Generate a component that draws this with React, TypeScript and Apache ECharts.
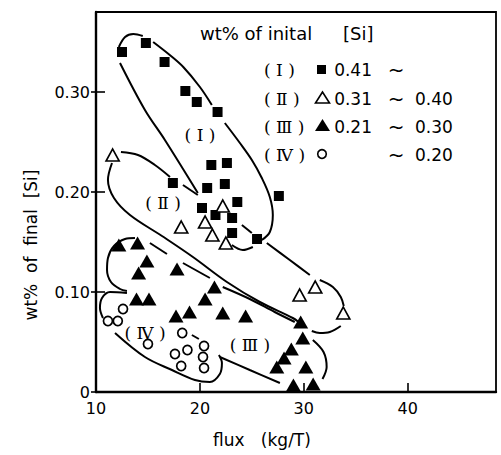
import React, { useEffect, useRef } from "react";
import * as echarts from "echarts";

// Final [Si] (wt%) against flux addition (kg/T), grouped by initial [Si]
const groupI: [number, number][] = [
  [12.5, 0.34], [14.8, 0.349], [16.6, 0.33], [18.6, 0.301], [19.7, 0.29], [21.7, 0.28],
  [21.1, 0.227], [22.6, 0.229], [17.4, 0.209], [20.7, 0.204], [22.4, 0.208], [20.2, 0.184],
  [23.6, 0.19], [21.5, 0.177], [23.1, 0.174], [23.1, 0.159], [25.5, 0.153], [27.6, 0.196],
];
const groupII: [number, number][] = [
  [11.6, 0.237], [18.2, 0.165], [20.5, 0.17], [21.2, 0.157], [22.2, 0.186], [22.5, 0.149],
  [29.6, 0.097], [31.1, 0.105], [33.8, 0.079],
];
const groupIII: [number, number][] = [
  [12.2, 0.147], [14.0, 0.149], [14.9, 0.131], [14.1, 0.119], [17.8, 0.123], [13.9, 0.093],
  [15.1, 0.093], [17.7, 0.076], [19.0, 0.08], [21.4, 0.105], [20.5, 0.093], [22.2, 0.079],
  [24.4, 0.076], [29.7, 0.07], [29.9, 0.054], [28.8, 0.043], [28.1, 0.034], [27.4, 0.025],
  [30.2, 0.025], [29.0, 0.007], [30.9, 0.008],
];
const groupIV: [number, number][] = [
  [12.6, 0.083], [11.15, 0.071], [12.1, 0.071], [15.0, 0.048], [18.3, 0.059], [20.4, 0.046],
  [18.8, 0.042], [17.6, 0.038], [20.3, 0.035], [18.2, 0.026], [20.4, 0.024],
];

// Hand-drawn group boundaries, as broken stroke pieces in data units
const envelopeI: [number, number][][] = [
  [[12.2, 0.345], [12.8, 0.355], [13.6, 0.358], [14.5, 0.356]],
  [[15.5, 0.35], [17.1, 0.337], [18.4, 0.325], [20.0, 0.305], [21.15, 0.287]],
  [[22.4, 0.269], [23.85, 0.249], [25.0, 0.232], [25.96, 0.214], [26.73, 0.195], [27.02, 0.177], [26.73, 0.16], [25.96, 0.152]],
  [[12.31, 0.329], [14.71, 0.282], [16.63, 0.252], [19.8, 0.199]],
  [[23.08, 0.147], [24.13, 0.142], [25.1, 0.145]],
];
const envelopeII: [number, number][][] = [
  [[12.4, 0.24], [14.04, 0.237], [15.67, 0.227], [17.12, 0.215]],
  [[18.37, 0.207], [19.8, 0.197]],
  [[24.04, 0.167], [25.0, 0.159]],
  [[26.44, 0.149], [28.65, 0.132], [30.58, 0.117]],
  [[31.54, 0.112], [32.8, 0.105], [33.56, 0.095], [33.85, 0.086]],
  [[33.56, 0.066], [32.5, 0.06], [31.54, 0.059], [30.77, 0.061]],
  [[11.54, 0.229], [11.15, 0.212], [11.73, 0.194], [13.27, 0.177], [16.35, 0.156], [19.33, 0.135], [22.6, 0.11], [25.77, 0.09], [28.94, 0.074], [29.5, 0.07]],
];
const envelopeIII: [number, number][][] = [
  [[13.75, 0.154], [12.79, 0.153], [11.73, 0.146], [11.15, 0.134], [11.06, 0.122], [11.44, 0.11], [12.31, 0.103], [12.98, 0.101]],
  [[15.19, 0.149], [16.83, 0.138]],
  [[18.37, 0.129], [20.96, 0.114]],
  [[22.2, 0.105], [24.8, 0.093], [27.2, 0.08], [29.13, 0.07]],
  [[30.87, 0.052], [31.9, 0.04], [32.2, 0.025], [31.8, 0.013]],
  [[21.92, 0.035], [24.8, 0.022], [27.7, 0.009]],
];
const envelopeIV: [number, number][][] = [
  [[12.98, 0.099], [11.35, 0.1], [10.58, 0.094], [10.38, 0.084], [10.67, 0.074]],
  [[11.83, 0.059], [14.71, 0.035], [17.31, 0.022], [19.52, 0.012], [20.96, 0.01], [21.92, 0.018], [22.12, 0.029], [21.83, 0.037]],
  [[19.23, 0.057], [19.9, 0.053]],
];

const groupNames = ["( Ⅰ )", "( Ⅱ )", "( Ⅲ )", "( Ⅳ )"];
const rangeLow = ["0.41", "0.31", "0.21", ""];
const rangeHigh = ["", "0.40", "0.30", "0.20"];

const SANS = "DejaVu Sans";
const SERIF = "DejaVu Serif";
const INK = "#000";

function buildOption() {
  const envelopeSeries = [...envelopeI, ...envelopeII, ...envelopeIII, ...envelopeIV].map((seg) => ({
    type: "line",
    data: seg,
    smooth: 0.35,
    showSymbol: false,
    symbol: "none",
    silent: true,
    z: 1,
    lineStyle: { color: INK, width: 2 },
  }));

  const rowY = [70, 99, 127, 155];
  const legendGraphics: any[] = [
    { type: "text", x: 200, y: 33, style: { text: "wt% of inital", font: `18px '${SANS}'`, fill: INK, verticalAlign: "middle" } },
    { type: "text", x: 343, y: 33, style: { text: "[Si]", font: `18px '${SANS}'`, fill: INK, verticalAlign: "middle" } },
    { type: "rect", shape: { x: 317, y: 65, width: 9, height: 9 }, style: { fill: INK } },
    { type: "polygon", shape: { points: [[322.5, 92], [315.5, 103], [329.5, 103]] }, style: { fill: "#fff", stroke: INK, lineWidth: 1.6 } },
    { type: "polygon", shape: { points: [[322.5, 119], [315, 131], [330, 131]] }, style: { fill: INK } },
    { type: "circle", shape: { cx: 322, cy: 154, r: 4.3 }, style: { fill: "#fff", stroke: INK, lineWidth: 1.6 } },
  ];
  groupNames.forEach((name, i) => {
    legendGraphics.push({ type: "text", x: 264, y: rowY[i], style: { text: name, font: `17px '${SERIF}'`, fill: INK, verticalAlign: "middle" } });
    if (rangeLow[i]) legendGraphics.push({ type: "text", x: 372, y: rowY[i], style: { text: rangeLow[i], font: `17px '${SANS}'`, fill: INK, align: "right", verticalAlign: "middle" } });
    legendGraphics.push({ type: "text", x: 396, y: rowY[i], style: { text: "~", font: `20px '${SANS}'`, fill: INK, align: "center", verticalAlign: "middle" } });
    if (rangeHigh[i]) legendGraphics.push({ type: "text", x: 415, y: rowY[i], style: { text: rangeHigh[i], font: `17px '${SANS}'`, fill: INK, verticalAlign: "middle" } });
  });

  const plotLabels = [
    { text: groupNames[0], x: 200, y: 135 },
    { text: groupNames[1], x: 163, y: 203 },
    { text: groupNames[3], x: 145, y: 333 },
    { text: groupNames[2], x: 250, y: 345 },
  ].map((l) => ({
    type: "text", x: l.x, y: l.y, z: 10,
    style: { text: l.text, font: `17px '${SERIF}'`, fill: INK, align: "center", verticalAlign: "middle" },
  }));

  const axisTitles = [
    { type: "text", x: 31, y: 245, rotation: Math.PI / 2, style: { text: "wt%  of  final  [Si]", font: `17px '${SANS}'`, fill: INK, align: "center", verticalAlign: "middle" } },
    { type: "text", x: 262, y: 440, style: { text: "flux   (kg/T)", font: `17px '${SANS}'`, fill: INK, align: "center", verticalAlign: "middle" } },
  ];

  return {
    animation: false,
    backgroundColor: "#fff",
    grid: { left: 96, right: 5, top: 12, bottom: 63, show: true, borderColor: INK, borderWidth: 1.8, backgroundColor: "transparent" },
    xAxis: {
      type: "value", min: 10, max: 48.5, interval: 10,
      axisLine: { show: true, lineStyle: { color: INK, width: 2.4 } },
      axisTick: { show: true, inside: true, length: 9, lineStyle: { color: INK, width: 1.6 } },
      axisLabel: { color: INK, fontFamily: SANS, fontSize: 16, margin: 8, showMaxLabel: false },
      splitLine: { show: false },
    },
    yAxis: [
      {
        type: "value", min: 0, max: 0.38, interval: 0.1,
        axisLine: { show: true, lineStyle: { color: INK, width: 2.4 } },
        axisTick: { show: true, inside: false, length: 5, lineStyle: { color: INK, width: 1.6 } },
        axisLabel: {
          color: INK, fontFamily: SANS, fontSize: 16, margin: 6, showMaxLabel: false,
          formatter: (v: number) => (v === 0 ? "0" : v.toFixed(2)),
        },
        splitLine: { show: false },
      },
      {
        type: "value", min: 0, max: 0.38, interval: 0.1, position: "left",
        axisLine: { show: false },
        axisTick: { show: true, inside: true, length: 9, lineStyle: { color: INK, width: 1.6 } },
        axisLabel: { show: false },
        splitLine: { show: false },
      },
    ],
    series: [
      ...envelopeSeries,
      { type: "scatter", name: "Ⅰ", data: groupI, symbol: "rect", symbolSize: 10, z: 5, itemStyle: { color: INK, opacity: 1 } },
      { type: "scatter", name: "Ⅱ", data: groupII, symbol: "triangle", symbolSize: [13, 12], z: 5, itemStyle: { color: "#fff", borderColor: INK, borderWidth: 1.7, opacity: 1 } },
      { type: "scatter", name: "Ⅲ", data: groupIII, symbol: "triangle", symbolSize: [15, 13], z: 5, itemStyle: { color: INK, opacity: 1 } },
      { type: "scatter", name: "Ⅳ", data: groupIV, symbol: "circle", symbolSize: 9, z: 5, itemStyle: { color: "#fff", borderColor: INK, borderWidth: 1.7, opacity: 1 } },
    ],
    graphic: [...legendGraphics, ...plotLabels, ...axisTitles],
  };
}

export default function App() {
  const ref = useRef<HTMLDivElement>(null);
  useEffect(() => {
    if (!ref.current) return;
    const chart = echarts.init(ref.current, null, { renderer: "svg" });
    chart.setOption(buildOption() as any);
    return () => chart.dispose();
  }, []);
  return (
    <div
      ref={ref}
      style={{ position: "absolute", left: 0, top: 0, width: 501, height: 455, background: "#fff" }}
    />
  );
}
